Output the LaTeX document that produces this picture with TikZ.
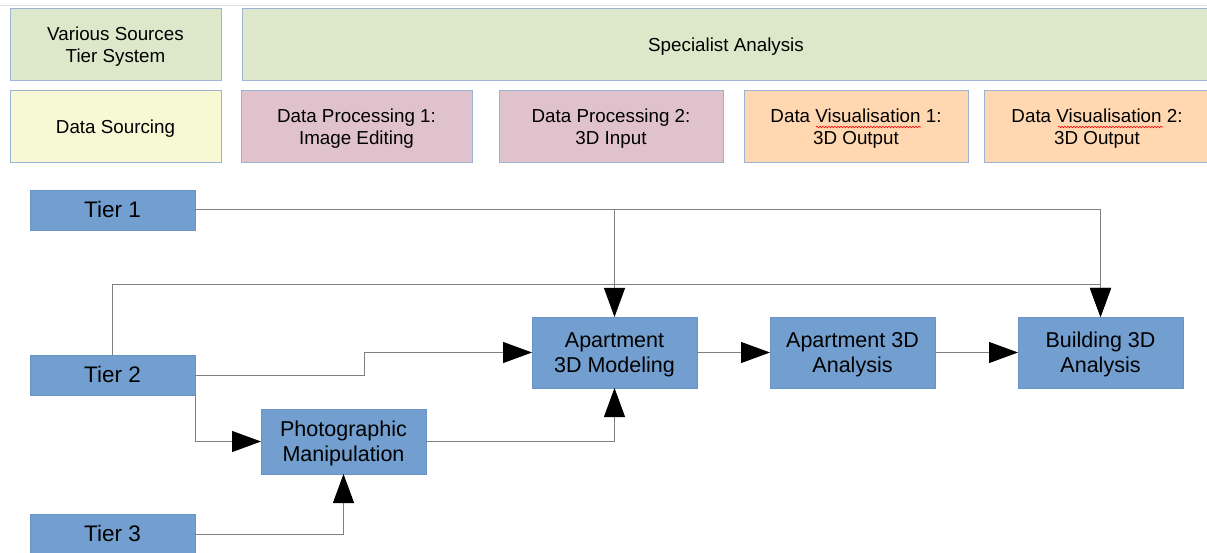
\documentclass[tikz,border=0pt]{standalone}
\usepackage{fontspec}
\setmainfont{Liberation Sans}
\usetikzlibrary{positioning, arrows.meta, decorations.pathmorphing}

\definecolor{headgreen}{HTML}{DDE8CB}
\definecolor{headyellow}{HTML}{F6F9D4}
\definecolor{headpink}{HTML}{E0C2CD}
\definecolor{headorange}{HTML}{FFD8B2}
\definecolor{headline}{HTML}{9DB3D6}
\definecolor{stepblue}{HTML}{729FCF}
\definecolor{stepline}{HTML}{6A93C6}
\definecolor{linkgray}{HTML}{808080}

% line strut with the font's ascent and descent
\newcommand{\fontstrut}{\rule[-0.212em]{0pt}{1.117em}}
\newcommand{\twolines}[2]{\fontstrut#1\\#2\fontstrut}

\tikzset{
    headbox/.style={draw=headline, line width=1pt, minimum height=72pt, align=center, outer sep=0pt, inner sep=2pt, font=\fontsize{18.8}{21.5}\selectfont, execute at begin node=\fontstrut},
    stepbox/.style={draw=stepline, fill=stepblue, line width=0.8pt, minimum width=165pt, align=center, outer sep=0pt, inner sep=2pt, font=\fontsize{21.5}{24}\selectfont, execute at begin node=\fontstrut},
    tierbox/.style={stepbox, minimum height=40pt, font=\fontsize{22.5}{24}\selectfont},
    link/.style={draw=linkgray, line width=1pt, -{Triangle[length=29pt, width=21pt, black]}},
    spellwave/.style={red, line width=0.6pt, decorate, decoration={snake, amplitude=0.8pt, segment length=3pt}}
}

\begin{document}
\begin{tikzpicture}[x=1pt, y=-1pt]

    \useasboundingbox (0,0) rectangle (1207,553);
    \draw[black!12, line width=1pt] (0,6) -- (1207,6);

    % Header rows
    \node[headbox, fill=headgreen, minimum width=211pt, anchor=north west] (tiers) at (10,9) {\twolines{Various Sources}{Tier System}};
    \node[headbox, fill=headgreen, minimum width=968pt, right=21pt of tiers] (specialist) {Specialist Analysis};

    \node[headbox, fill=headyellow, minimum width=211pt, below=10pt of tiers] (sourcing) {Data Sourcing};
    \node[headbox, fill=headpink, minimum width=231pt, right=20pt of sourcing] (process1) {\twolines{Data Processing 1:}{Image Editing}};
    \node[headbox, fill=headpink, minimum width=224pt, right=27pt of process1] (process2) {\twolines{Data Processing 2:}{3D Input}};
    \node[headbox, fill=headorange, minimum width=224pt, right=21pt of process2] (visual1) {\twolines{Data Visualisation 1:}{3D Output}};
    \node[headbox, fill=headorange, minimum width=226pt, right=16pt of visual1] (visual2) {\twolines{Data Visualisation 2:}{3D Output}};

    % spell-check marks
    \draw[spellwave] ([xshift=-40pt, yshift=0pt]visual1.center) -- ([xshift=65pt, yshift=0pt]visual1.center);
    \draw[spellwave] ([xshift=-39pt, yshift=0pt]visual2.center) -- ([xshift=66pt, yshift=0pt]visual2.center);

    % Tiers and processing steps
    \node[tierbox, anchor=north west] (tier1) at (30,190) {Tier 1};
    \node[tierbox, below=125pt of tier1] (tier2) {Tier 2};
    \node[tierbox, below=119pt of tier2] (tier3) {Tier 3};
    \node[stepbox, minimum height=65pt, below right=14pt and 66pt of tier2] (photo) {\twolines{Photographic}{Manipulation}};
    \node[stepbox, minimum height=71pt, above right=21pt and 106pt of photo] (model) {\twolines{Apartment}{3D Modeling}};
    \node[stepbox, minimum height=71pt, right=73pt of model] (aptanalysis) {\twolines{Apartment 3D}{Analysis}};
    \node[stepbox, minimum height=71pt, right=83pt of aptanalysis] (bldanalysis) {\twolines{Building 3D}{Analysis}};

    % Connectors
    \draw[link] (tier1.east) -| (model.north);
    \draw[link] (tier1.east) -| (bldanalysis.north);
    \draw[link] (tier2.north) -- ++(0pt,70pt) -| (bldanalysis.north);
    \draw[link] (tier2.east) -- ++(169pt,0pt) |- (model.west);
    \draw[link] (tier2.south east) |- (photo.west);
    \draw[link] (photo.east) -| (model.south);
    \draw[link] (tier3.east) -| (photo.south);
    \draw[link] (model.east) -- (aptanalysis.west);
    \draw[link] (aptanalysis.east) -- (bldanalysis.west);

\end{tikzpicture}
\end{document}
